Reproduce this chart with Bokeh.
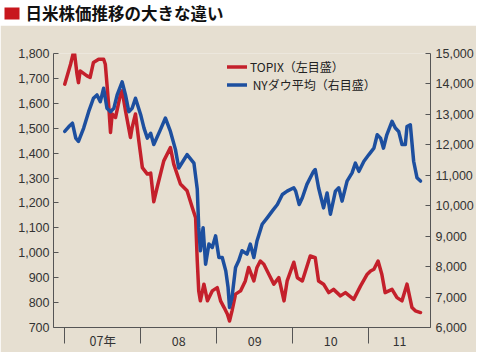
import pandas as pd
from bokeh.plotting import figure
from bokeh.models import (Range1d, LinearAxis, FixedTicker, NumeralTickFormatter,
                          Legend, LegendItem, Label, BoxAnnotation)
from bokeh.embed import file_html
from bokeh.resources import INLINE

# ---------------- data ----------------
title_text = "日米株価推移の大きな違い"
topix_label = "TOPIX（左目盛）"
dow_label = " NYダウ平均（右目盛）"
unit_label = "（ドル）"

topix_dates = [
    "2007-01-01", "2007-01-29", "2007-02-15", "2007-03-01", "2007-03-08", "2007-03-16",
    "2007-04-18", "2007-05-03", "2007-05-19", "2007-06-13", "2007-07-07", "2007-07-15",
    "2007-07-23", "2007-08-01", "2007-08-09", "2007-08-17", "2007-09-02", "2007-09-26",
    "2007-10-04", "2007-10-20", "2007-11-13", "2007-11-21", "2007-12-07", "2007-12-23",
    "2008-01-09", "2008-02-02", "2008-02-18", "2008-03-04", "2008-03-20", "2008-04-21",
    "2008-05-23", "2008-06-08", "2008-07-10", "2008-08-11", "2008-09-05", "2008-09-21",
    "2008-09-29", "2008-10-06", "2008-10-14", "2008-10-31", "2008-11-17", "2008-12-10",
    "2009-01-03", "2009-01-19", "2009-02-05", "2009-02-21", "2009-03-03", "2009-03-15",
    "2009-04-01", "2009-04-25", "2009-05-18", "2009-06-03", "2009-06-28", "2009-07-13",
    "2009-07-29", "2009-08-15", "2009-09-08", "2009-10-02", "2009-10-26", "2009-11-20",
    "2009-12-05", "2010-01-06", "2010-01-23", "2010-02-16", "2010-03-26", "2010-04-19",
    "2010-05-05", "2010-05-29", "2010-06-23", "2010-07-16", "2010-08-18", "2010-09-11",
    "2010-10-21", "2010-11-23", "2010-12-25", "2011-01-10", "2011-01-26", "2011-02-15",
    "2011-03-05", "2011-03-21", "2011-04-23", "2011-05-17", "2011-06-10", "2011-07-04",
    "2011-07-28", "2011-08-13", "2011-09-07",
]
topix_values = [
    1677, 1757, 1815, 1717, 1683, 1730,
    1710, 1704, 1764, 1777, 1777, 1757,
    1677, 1583, 1483, 1557, 1543, 1637,
    1650, 1570, 1463, 1503, 1557, 1450,
    1342, 1316, 1320, 1205, 1262, 1369,
    1422, 1356, 1276, 1249, 1182, 1141,
    967, 847, 807, 874, 807, 847,
    860, 807, 780, 753, 726, 767,
    834, 847, 887, 941, 887, 941,
    967, 954, 914, 874, 900, 807,
    887, 962, 900, 887, 987, 980,
    887, 874, 840, 853, 827, 840,
    813, 867, 914, 927, 934, 967,
    914, 840, 853, 820, 807, 874,
    780, 767, 760,
]

dow_dates = [
    "2007-01-01", "2007-01-21", "2007-02-07", "2007-02-23", "2007-03-08", "2007-04-02",
    "2007-04-26", "2007-05-19", "2007-06-05", "2007-06-21", "2007-07-07", "2007-07-23",
    "2007-08-09", "2007-08-25", "2007-09-10", "2007-10-04", "2007-10-20", "2007-11-05",
    "2007-11-21", "2007-12-07", "2008-01-01", "2008-01-17", "2008-02-02", "2008-02-18",
    "2008-03-04", "2008-04-05", "2008-04-29", "2008-05-23", "2008-06-16", "2008-07-02",
    "2008-07-26", "2008-08-11", "2008-09-13", "2008-09-29", "2008-10-06", "2008-10-14",
    "2008-10-27", "2008-11-08", "2008-11-24", "2008-12-10", "2008-12-26", "2009-01-11",
    "2009-01-27", "2009-02-13", "2009-02-24", "2009-03-03", "2009-03-15", "2009-04-01",
    "2009-04-16", "2009-05-02", "2009-05-26", "2009-06-11", "2009-06-28", "2009-07-13",
    "2009-08-07", "2009-09-01", "2009-09-25", "2009-10-19", "2009-11-12", "2009-12-05",
    "2010-01-06", "2010-01-15", "2010-02-01", "2010-02-16", "2010-03-10", "2010-04-11",
    "2010-04-19", "2010-05-05", "2010-05-29", "2010-06-15", "2010-07-01", "2010-07-25",
    "2010-08-10", "2010-08-26", "2010-09-19", "2010-10-13", "2010-10-29", "2010-11-15",
    "2010-12-09", "2011-01-02", "2011-01-26", "2011-02-11", "2011-02-27", "2011-03-13",
    "2011-03-29", "2011-04-23", "2011-05-09", "2011-05-25", "2011-06-10", "2011-06-26",
    "2011-07-04", "2011-07-20", "2011-08-05", "2011-08-21", "2011-09-07",
]
dow_values = [
    12440, 12600, 12710, 12220, 12110, 12550,
    13090, 13530, 13640, 13420, 13860, 13200,
    13090, 13200, 13640, 14070, 13640, 13090,
    13200, 13530, 12990, 12550, 12220, 12380,
    12010, 12500, 12880, 12440, 11850, 11240,
    11500, 11680, 11400, 10540, 9280, 8520,
    9280, 8080, 8740, 8630, 9010, 8300,
    8300, 7860, 7320, 6660, 6990, 7970,
    8190, 8520, 8410, 8740, 8300, 8840,
    9390, 9610, 9830, 10040, 10370, 10480,
    10590, 10480, 10040, 10260, 10700, 11130,
    11190, 10590, 9930, 10420, 9720, 10480,
    10590, 10150, 10810, 11080, 11400, 11130,
    11460, 11680, 11890, 12330, 12220, 11890,
    12330, 12770, 12550, 12440, 12010, 12010,
    12600, 12660, 11460, 10920, 10810,
]

year_bounds = ["2007-01-01", "2008-01-01", "2009-01-01", "2010-01-01", "2011-01-01", "2012-01-01"]
year_labels = ["07年", "08", "09", "10", "11"]
topix_ticks = [700, 800, 900, 1000, 1100, 1200, 1300, 1400, 1500, 1600, 1700, 1800]
dow_ticks = [6000, 7000, 8000, 9000, 10000, 11000, 12000, 13000, 14000, 15000]
x_start, x_end = "2006-11-08", "2011-10-25"

# ---------------- style ----------------
RED = "#c4202b"
BLUE = "#1d4f9f"
BEIGE = "#e6dfd1"
AXIS = "#555555"
TXT = "#333333"
NUM_FONT = "Liberation Sans"
JP_FONT = "Noto Sans CJK JP"


def to_ms(d):
    return pd.Timestamp(d).value / 1e6


xs, xe = to_ms(x_start), to_ms(x_end)

W = 474
STRIP = 25

# ---------------- title strip (own root, not frame-aligned) ----------------
t = figure(frame_width=W, frame_height=STRIP, title=None,
           output_backend="svg", toolbar_location=None,
           x_axis_location=None, y_axis_location=None,
           x_range=Range1d(0, W), y_range=Range1d(STRIP, 0),
           min_border=0, min_border_left=0, min_border_right=0,
           min_border_top=0, min_border_bottom=0, outline_line_color=None,
           background_fill_color="white", border_fill_color="white")
t.grid.visible = False
t.add_layout(BoxAnnotation(left=4, right=19, top=7, bottom=19,
                           fill_color="#c8161d", fill_alpha=1, line_alpha=0))
t.add_layout(Label(x=25, y=12.5, text=title_text, text_font=JP_FONT,
                   text_font_size="16.5px", text_font_style="bold",
                   text_color="#111111", text_baseline="middle"))

# ---------------- main chart ----------------
FRAME_W, FRAME_H = 377, 274
B_LEFT, B_RIGHT, B_TOP, B_BOTTOM = 53, 44, 28, 22
p = figure(frame_width=FRAME_W, frame_height=FRAME_H,
           output_backend="svg", toolbar_location=None,
           x_range=Range1d(xs, xe), y_range=Range1d(topix_ticks[0], topix_ticks[-1]),
           min_border_left=B_LEFT, min_border_right=B_RIGHT,
           min_border_top=B_TOP, min_border_bottom=B_BOTTOM,
           background_fill_color=BEIGE, border_fill_color=BEIGE, outline_line_color=None)
p.extra_y_ranges = {"dow": Range1d(dow_ticks[0], dow_ticks[-1])}
p.grid.visible = False

r_topix = p.line([to_ms(d) for d in topix_dates], topix_values,
                 line_color=RED, line_width=3.5, line_join="round", line_cap="round")
r_dow = p.line([to_ms(d) for d in dow_dates], dow_values, y_range_name="dow",
               line_color=BLUE, line_width=3.5, line_join="round", line_cap="round")

# left axis
ya = p.yaxis[0]
ya.ticker = FixedTicker(ticks=topix_ticks)
ya.formatter = NumeralTickFormatter(format="0,0")
ya.major_tick_in = 5
ya.major_tick_out = 0
ya.minor_tick_line_color = None
ya.major_label_standoff = 4

# right axis
ra = LinearAxis(y_range_name="dow", ticker=FixedTicker(ticks=dow_ticks),
                formatter=NumeralTickFormatter(format="0,0"))
ra.major_tick_in = 5
ra.major_tick_out = 0
ra.minor_tick_line_color = None
ra.major_label_standoff = 5
p.add_layout(ra, "right")

# bottom axis: year boundaries as tick lines, labels centred in each year
bounds_ms = [to_ms(d) for d in year_bounds]
label_pos = []
for i in range(len(year_labels)):
    a = bounds_ms[i]
    b = min(bounds_ms[i + 1], xe)
    label_pos.append((a + b) / 2)
xa = p.xaxis[0]
xa.ticker = FixedTicker(ticks=label_pos, minor_ticks=[b for b in bounds_ms if b < xe])
xa.major_label_overrides = {pos: lab for pos, lab in zip(label_pos, year_labels)}
xa.major_tick_in = 0
xa.major_tick_out = 0
xa.minor_tick_in = 0
xa.minor_tick_out = 16
xa.major_label_standoff = -13

for ax in (ya, ra, xa):
    ax.axis_line_color = AXIS
    ax.major_tick_line_color = AXIS
    ax.major_label_text_color = TXT
    ax.major_label_text_font = NUM_FONT
    ax.major_label_text_font_size = "12.5px"
xa.minor_tick_line_color = AXIS
xa.major_label_text_font = JP_FONT
xa.major_label_text_font_size = "12.5px"

# unit label above right axis
ppx = (xe - xs) / FRAME_W
ppy = (dow_ticks[-1] - dow_ticks[0]) / FRAME_H
p.add_layout(Label(x=xe + 26 * ppx, y=dow_ticks[-1] + 17 * ppy, y_range_name="dow",
                   text=unit_label, text_font=JP_FONT,
                   text_font_size="10px", text_color=TXT, text_align="center",
                   text_baseline="middle"))

legend = Legend(items=[LegendItem(label=topix_label, renderers=[r_topix]),
                       LegendItem(label=dow_label, renderers=[r_dow])],
                location=(174, 234), label_text_font=JP_FONT, label_text_font_size="12px",
                label_text_color="#222222", glyph_width=20, glyph_height=17,
                label_height=17, spacing=1, padding=0, margin=0, label_standoff=3,
                background_fill_alpha=0, border_line_alpha=0)
p.add_layout(legend)

open("out.html", "w").write(file_html([t, p], INLINE))
